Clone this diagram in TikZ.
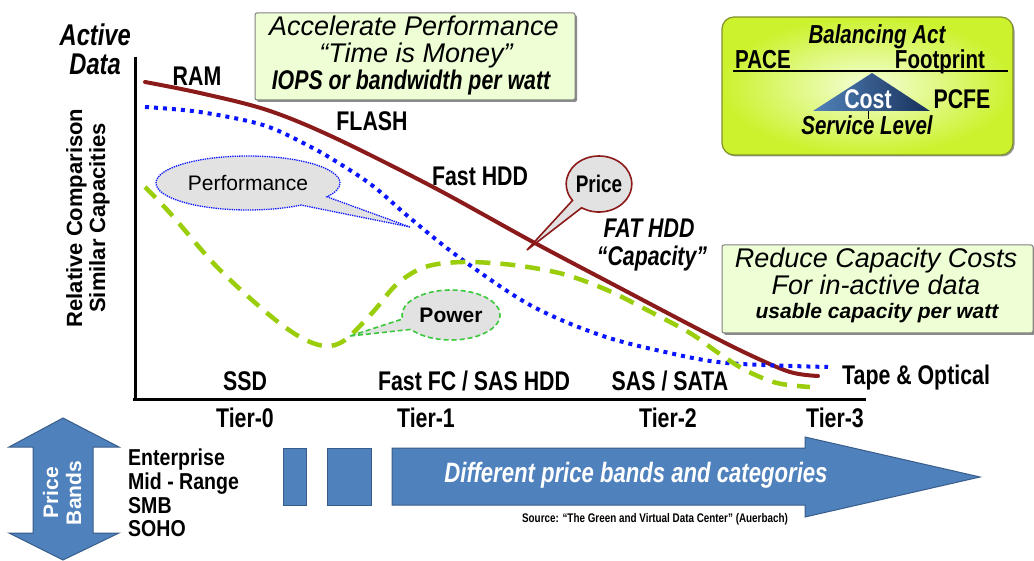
\documentclass[tikz,border=0pt]{standalone}
\usepackage{fontspec}
\setmainfont{Liberation Sans}
\newfontfamily\cond[FakeStretch=0.79]{Liberation Sans}
\newfontfamily\condb[FakeStretch=0.85]{Liberation Sans}
\usetikzlibrary{shapes.callouts,shadows}
\definecolor{curvered}{HTML}{8B1A1A}
\definecolor{curveblue}{HTML}{0A14FF}
\definecolor{curvegreen}{HTML}{9ACD0A}
\definecolor{callgreen}{HTML}{3CC83C}
\definecolor{boxfill}{HTML}{EEFFD6}
\definecolor{bandblue}{HTML}{4F81BD}
\definecolor{bandedge}{HTML}{385D8A}
\definecolor{balouter}{HTML}{CCF22E}
\definecolor{balinner}{HTML}{F4FFD8}
\definecolor{balborder}{HTML}{7F8F2A}
\definecolor{pyrdark}{HTML}{17305A}
\definecolor{pyrlight}{HTML}{5283BA}
\definecolor{callfill}{HTML}{E2E2E2}
\newcommand{\fsz}[1]{\fontsize{#1}{#1}\selectfont}
\begin{document}
\begin{tikzpicture}[x=1pt,y=-1pt,
  lab/.style={font=\cond\bfseries\fsz{27}, inner sep=0pt, text depth=0pt},
  itlab/.style={font=\cond\bfseries\itshape\fsz{27}, inner sep=0pt, text depth=0pt},
  bandlab/.style={font=\condb\bfseries\fsz{23}, inner sep=0pt, text depth=0pt, anchor=west},
  greenbox/.style={draw=black!50, fill=boxfill, line width=1pt, rounded corners=2pt, inner sep=0pt,
    drop shadow={shadow xshift=2pt, shadow yshift=-2pt, fill=black!45, opacity=1}},
  boxtext/.style={inner sep=0pt, text depth=0pt},
  callout/.style={ellipse callout, fill=callfill, inner sep=0pt},
  bandshape/.style={fill=bandblue, draw=bandedge, line width=1pt},
]
\fill[white] (0,0) rectangle (1034,561);
\useasboundingbox (0,0) rectangle (1034,561);

% axes
\coordinate (ytop) at (135,57);
\coordinate (orig) at (135,400);
\coordinate (xstart) at (133,400);
\coordinate (xend) at (866,400);
\draw[line width=3pt] (ytop) -- (orig);
\draw[line width=3pt] (xstart) -- (xend);

% axis titles
\node[font=\cond\bfseries\itshape\fsz{30}, inner sep=0pt, anchor=east] (active) at (131,35) {Active};
\node[font=\cond\bfseries\itshape\fsz{30}, inner sep=0pt, anchor=east] (data) at (121,64) {Data};
\node[font=\bfseries\fsz{22}, rotate=90, align=center, inner sep=0pt] (ylab) at (88,218)
  {Relative Comparison\\[1pt]Similar Capacities};

% curves
\draw[curvered, line width=4pt, line cap=round] plot[smooth, tension=0.55] coordinates
  {(145,82) (200,93) (267,110) (333,137) (433,187) (533,242) (620,288) (700,330) (750,355) (790,372) (818,376)};
\draw[curveblue, line width=4pt, dash pattern=on 4pt off 5pt] plot[smooth, tension=0.55] coordinates
  {(145,107) (200,112) (263,125) (307,145) (337,162) (373,186) (410,218) (460,258) (530,305) (600,335) (665,352) (727,363) (828,367)};
\draw[curvegreen, line width=4.5pt, dash pattern=on 15pt off 10pt] plot[smooth, tension=0.55] coordinates
  {(145,187) (170,213) (217,267) (267,313) (300,337) (325,346) (345,340) (373,312) (397,284) (425,267) (463,262) (513,265) (563,274) (607,290) (647,310) (690,333) (717,352) (745,370) (777,383) (810,387)};

% callouts
\node[callout, draw=curveblue, densely dotted, line width=1.3pt, minimum width=184pt, minimum height=54pt,
  callout absolute pointer={(410,227)}, callout pointer arc=24, font=\fsz{21}] (perf) at (248,183) {Performance};
\node[callout, draw=callgreen, dash pattern=on 5pt off 3pt, line width=1.6pt, minimum width=98pt, minimum height=50pt,
  callout absolute pointer={(350,336)}, callout pointer arc=26, font=\bfseries\fsz{21}] (pow) at (451,315) {Power};
\node[callout, draw=curvered, line width=1.6pt, minimum width=62pt, minimum height=56pt,
  callout absolute pointer={(527,250)}, callout pointer arc=22, font=\cond\bfseries\fsz{24}] (price) at (599,184) {Price};

% curve labels
\node[lab] (ram) at (197,76) {RAM};
\node[lab] (flash) at (372,121) {FLASH};
\node[lab] (fasthdd) at (480,176) {Fast HDD};
\node[itlab] (fathdd) at (649,228) {FAT HDD};
\node[itlab] (capac) at (652,256) {“Capacity”};
\node[lab, anchor=west] (tape) at (842,375) {Tape \& Optical};
\node[lab] (ssd) at (245,381) {SSD};
\node[lab] (fastfc) at (474,381) {Fast FC / SAS HDD};
\node[lab] (sata) at (670,381) {SAS / SATA};
\node[lab] (t0) at (245,418) {Tier-0};
\node[lab] (t1) at (426,418) {Tier-1};
\node[lab] (t2) at (668,418) {Tier-2};
\node[lab] (t3) at (835,418) {Tier-3};

% Accelerate box
\node[greenbox, minimum width=320pt, minimum height=87pt] (acc) at (415,56.5) {};
\node[boxtext, font=\itshape\fsz{27}] (acc1) at (414,26) {Accelerate Performance};
\node[boxtext, font=\itshape\fsz{27}] (acc2) at (416,53) {“Time is Money”};
\node[boxtext, font=\cond\bfseries\itshape\fsz{27}] (acc3) at (411,80) {IOPS or bandwidth per watt};

% Reduce box
\node[greenbox, minimum width=311pt, minimum height=88pt] (red) at (877.5,289) {};
\node[boxtext, font=\itshape\fsz{27}] (red1) at (876,258) {Reduce Capacity Costs};
\node[boxtext, font=\itshape\fsz{27}] (red2) at (876,285) {For in-active data};
\node[boxtext, font=\bfseries\itshape\fsz{21}] (red3) at (877,311) {usable capacity per watt};

% Balancing act box
\node[draw=balborder, line width=1.2pt, rounded corners=12pt, inner color=balinner, outer color=balouter,
  minimum width=291pt, minimum height=138pt, inner sep=0pt,
  drop shadow={shadow xshift=1.5pt, shadow yshift=-1.5pt, fill=black!40, opacity=1}] (bal) at (867.5,86) {};
\node[itlab, font=\cond\bfseries\itshape\fsz{26}] (balact) at (877,34) {Balancing Act};
\node[lab, font=\cond\bfseries\fsz{26}] (pace) at (763,59) {PACE};
\node[lab, font=\cond\bfseries\fsz{26}] (foot) at (940,59) {Footprint};
\coordinate (beamL) at (733,71);
\coordinate (beamR) at (1008,71);
\draw[line width=1.6pt] (beamL) -- (beamR);
\shade[left color=pyrlight, right color=pyrdark] (813,111) -- (872,73) -- (930,111) -- cycle;
\draw[line width=1pt] (868,111) -- (868,119);
\node[lab, font=\cond\bfseries\fsz{27}, text=white] (cost) at (868,99) {Cost};
\node[lab, font=\cond\bfseries\fsz{27}] (pcfe) at (962,99) {PCFE};
\node[itlab, font=\cond\bfseries\itshape\fsz{26}] (serv) at (867,125) {Service Level};

% Price bands double arrow
\draw[bandshape] (63,418) -- (119,447) -- (93,447) -- (93,533) -- (119,533) -- (63,560)
  -- (9,533) -- (33,533) -- (33,447) -- (9,447) -- cycle;
\node[font=\bfseries\fsz{21}, text=white, rotate=90, align=center, inner sep=0pt] (pb) at (62,493) {Price\\[2pt]Bands};

% band labels
\node[bandlab] (ent) at (128,457) {Enterprise};
\node[bandlab] (mid) at (128,481) {Mid - Range};
\node[bandlab] (smb) at (128,505) {SMB};
\node[bandlab] (soho) at (128,528) {SOHO};

% blocks and big arrow
\draw[bandshape] (283,448) rectangle (306,505);
\draw[bandshape] (327,448) rectangle (371,505);
\draw[bandshape] (392,448) -- (805,448) -- (805,437) -- (980,477) -- (805,517) -- (805,505) -- (392,505) -- cycle;
\node[font=\cond\bfseries\itshape\fsz{28}, text=white, inner sep=0pt] (diff) at (636,475) {Different price bands and categories};
\node[font=\cond\bfseries\fsz{12.5}, inner sep=0pt] (src) at (655,519) {Source: “The Green and Virtual Data Center” (Auerbach)};
\end{tikzpicture}
\end{document}
